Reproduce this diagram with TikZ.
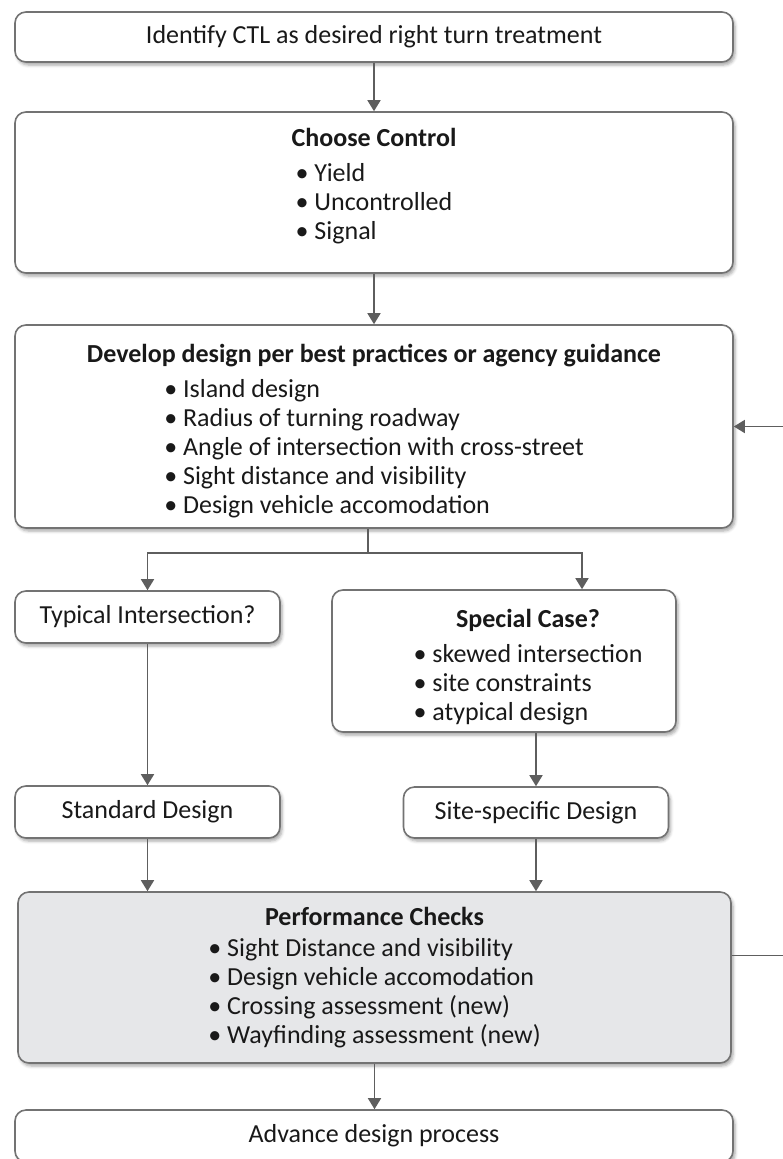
\documentclass[tikz,border=0pt]{standalone}
\usepackage{fontspec}
\setmainfont{Carlito}
\usetikzlibrary{arrows.meta,shadows.blur}
\definecolor{linegray}{HTML}{5E5E5E}
\definecolor{boxgray}{HTML}{E6E7E9}
\newcommand{\bulletlist}[1]{\begin{tabular}[t]{@{}l@{}}#1\end{tabular}}

\begin{document}
\begin{tikzpicture}[
	x=1pt, y=-1pt,
	every node/.style={font=\fontsize{26}{29}\selectfont, text=black!90},
	box/.style={rectangle, rounded corners=11pt, draw=black!55, line width=1.6pt, fill=white,
		blur shadow={shadow xshift=2pt, shadow yshift=-3pt, shadow blur radius=3pt, shadow opacity=35}},
	boxtext/.style={anchor=north, inner sep=0pt, align=center},
	arr/.style={draw=linegray, line width=1.6pt, -{Triangle[width=13pt,length=11pt]}},
]
\useasboundingbox (0,0) rectangle (782,1159);

\node[box, minimum width=718, minimum height=50] (identify) at (374,37) {Identify CTL as desired right turn treatment};

\node[box, minimum width=718, minimum height=161] (control) at (374,192.5) {};
\node[boxtext] (controltext) at ([yshift=-17pt]control.north) {\textbf{Choose Control}\\[6pt]
	\bulletlist{\textbullet\ Yield\\ \textbullet\ Uncontrolled\\ \textbullet\ Signal}};

\node[box, minimum width=718, minimum height=203] (develop) at (374,426.5) {};
\node[boxtext] (developtext) at ([yshift=-20pt]develop.north) {\textbf{Develop design per best practices or agency guidance}\\[6pt]
	\bulletlist{\textbullet\ Island design\\ \textbullet\ Radius of turning roadway\\ \textbullet\ Angle of intersection with cross-street\\
		\textbullet\ Sight distance and visibility\\ \textbullet\ Design vehicle accomodation}};

\node[box, minimum width=265, minimum height=52] (typical) at (147.5,617) {Typical Intersection?};

\node[box, minimum width=344, minimum height=142] (special) at (504,661) {};
\node[boxtext] (specialtext) at ([xshift=24pt, yshift=-20pt]special.north) {\textbf{Special Case?}\\[6pt]
	\bulletlist{\textbullet\ skewed intersection\\ \textbullet\ site constraints\\ \textbullet\ atypical design}};

\node[box, minimum width=265, minimum height=52] (standard) at (147.5,812) {Standard Design};
\node[box, minimum width=265, minimum height=51] (site) at (536,812.5) {Site-specific Design};

\node[box, fill=boxgray, minimum width=713, minimum height=171] (perf) at (374.5,977.5) {};
\node[boxtext] (perftext) at ([yshift=-16pt]perf.north) {\textbf{Performance Checks}\\[2pt]
	\bulletlist{\textbullet\ Sight Distance and visibility\\ \textbullet\ Design vehicle accomodation\\
		\textbullet\ Crossing assessment (new)\\ \textbullet\ Wayfinding assessment (new)}};

\node[box, minimum width=718, minimum height=52] (advance) at (374,1136) {Advance design process};

% connectors
\draw[arr] (identify) -- (control);
\draw[arr] (control) -- (develop);
\draw[linegray, line width=1.6pt] ([xshift=-6pt]develop.south) -- ++(0,24) coordinate (split);
\draw[arr] (split) -| (typical);
\draw[arr] (split) -| ([xshift=78pt]special.north);
\draw[arr] (typical) -- (standard);
\draw[arr] (special.south -| site) -- (site);
\draw[arr] (standard) -- (standard |- perf.north);
\draw[arr] (site) -- (site |- perf.north);
\draw[arr] (perf) -- (perf |- advance.north);
\draw[arr] ([yshift=22pt]perf.east) -- ++(70,0) |- (develop); % loops back
\end{tikzpicture}
\end{document}
